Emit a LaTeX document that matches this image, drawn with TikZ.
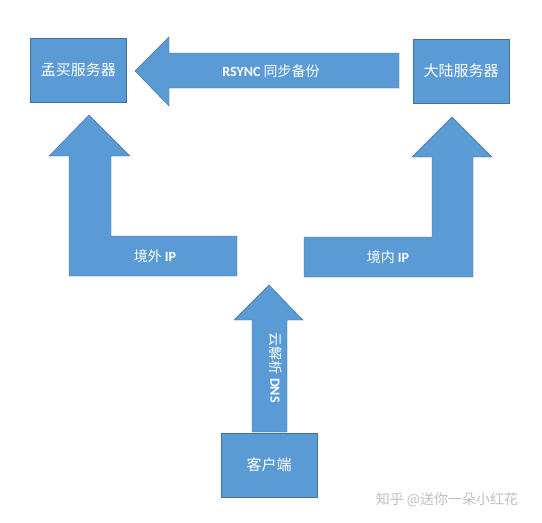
\documentclass[tikz,border=0pt]{standalone}
\usepackage{fontspec}
\setmainfont{Noto Sans CJK SC}
\newfontfamily\latfont{Carlito}
\usepackage{tikz}
\usetikzlibrary{positioning}
\definecolor{boxblue}{HTML}{5B9BD5}
\definecolor{edgeblue}{HTML}{41719C}

\begin{document}
\begin{tikzpicture}[x=1pt,y=-1pt,
	server/.style={draw=edgeblue,fill=boxblue,text=white,minimum width=96pt,minimum height=64pt,inner sep=0pt,font=\fontsize{15}{15}\selectfont},
	blockarrow/.style={draw=edgeblue,fill=boxblue,line join=miter},
	arrowtext/.style={text=white,inner sep=0pt,font=\fontsize{14}{14}\selectfont}]
		\useasboundingbox (0,0) rectangle (542,523);
		\node[server] (mumbai) at (78.5,70) {孟买服务器};
		\node[server] (mainland) at (461,71) {大陆服务器};
		\node[server] (client) at (269,465) {客户端};
		% block arrows
		\draw[blockarrow] (399,53)--(169,53)--(169,37)--(135,71)--(169,106)--(169,88)--(399,88)--cycle;
		\draw[blockarrow] (237,236)--(111,236)--(111,156)--(130,156)--(89,115)--(49,156)--(69,156)--(69,276)--(237,276)--cycle;
		\draw[blockarrow] (304,237)--(432,237)--(432,157)--(412,157)--(452,117)--(492,157)--(473,157)--(473,277)--(304,277)--cycle;
		\draw[blockarrow] (252,432)--(252,320)--(234,320)--(269,285)--(303,320)--(287,320)--(287,432)--cycle;
		\node[arrowtext] (rsync) at (271,71) {{\latfont\bfseries RSYNC} 同步备份};
		\node[arrowtext] (abroad) at (155,256) {境外 {\latfont\bfseries IP}};
		\node[arrowtext] (domestic) at (388,257) {境内 {\latfont\bfseries IP}};
		\node[arrowtext,rotate=-90,above=65pt of client] (dns) {云解析 {\latfont\bfseries DNS}};
		\node[text=black!25,font=\fontsize{14}{14}\selectfont] (mark) at (447,500) {知乎 @送你一朵小红花};
	\end{tikzpicture}
\end{document}
